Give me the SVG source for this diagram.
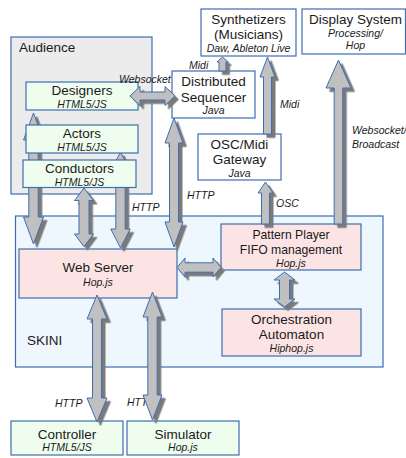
<svg xmlns="http://www.w3.org/2000/svg" width="406" height="458" viewBox="0 0 406 458">
<defs>
<filter id="sh" x="-30%" y="-30%" width="160%" height="160%">
<feDropShadow dx="3.5" dy="3.5" stdDeviation="0.4" flood-color="#7a7a7a" flood-opacity="1"/>
</filter>
</defs>
<style>
.box{stroke:#3d6eb0;stroke-width:1.2}
.aud{fill:#ececec}
.skini{fill:#eef6fe}
.green{fill:#effdef}
.white{fill:#ffffff}
.pink{fill:#fde4e4}
.t{font-family:"Liberation Sans",Arial,sans-serif;font-size:13.5px;fill:#1a1a1a;text-anchor:middle}
.tp{font-size:12.2px}
.s{font-family:"Liberation Sans",Arial,sans-serif;font-size:10.5px;font-style:italic;fill:#1a1a1a;text-anchor:middle}
.l{font-family:"Liberation Sans",Arial,sans-serif;font-size:10.5px;font-style:italic;fill:#1a1a1a}
.lbl{font-family:"Liberation Sans",Arial,sans-serif;font-size:13.5px;fill:#1a1a1a}
.arr{fill:#c0c0c0;stroke:#3d6eb0;stroke-width:1;filter:url(#sh)}
</style>
<rect width="406" height="458" fill="#ffffff"/>
<g id="audience">
<rect class="box aud" x="11" y="37" width="141" height="157"/>
<text class="lbl" x="19" y="52">Audience</text>
</g>
<g id="skini">
<rect class="box skini" x="15.5" y="216" width="367.5" height="151"/>
<text class="lbl" x="27" y="345">SKINI</text>
</g>
<g id="designers">
<rect class="box green" x="26" y="82" width="112" height="28"/>
<text class="t" x="82" y="95">Designers</text>
<text class="s" x="82" y="108">HTML5/JS</text>
</g>
<g id="sequencer">
<rect class="box white" x="172" y="71" width="83" height="47"/>
<text class="t" x="213.5" y="85.5">Distributed</text>
<text class="t" x="213.5" y="101.5">Sequencer</text>
<text class="s" x="213.5" y="113.5">Java</text>
</g>
<g id="synthetizers">
<rect class="box white" x="201" y="9" width="95" height="47"/>
<text class="t" x="248.5" y="24">Synthetizers</text>
<text class="t" x="248.5" y="39">(Musicians)</text>
<text class="s" x="248.5" y="52">Daw, Ableton Live</text>
</g>
<g id="display">
<rect class="box white" x="302" y="9" width="103.5" height="45"/>
<text class="t" x="355.5" y="24">Display System</text>
<text class="s" x="355.5" y="37">Processing/</text>
<text class="s" x="355.5" y="49">Hop</text>
</g>
<g id="gateway">
<rect class="box white" x="198" y="134" width="83" height="46"/>
<text class="t" x="239.5" y="149">OSC/Midi</text>
<text class="t" x="239.5" y="164">Gateway</text>
<text class="s" x="239.5" y="177">Java</text>
</g>
<g id="webserver">
<rect class="box pink" x="19" y="249" width="158" height="49"/>
<text class="t" x="98" y="272">Web Server</text>
<text class="s" x="98" y="285.5">Hop.js</text>
</g>
<g id="patternplayer">
<rect class="box pink" x="221" y="224" width="140" height="46"/>
<text class="t tp" x="291" y="239">Pattern Player</text>
<text class="t tp" x="291" y="254">FIFO management</text>
<text class="s" x="291" y="267">Hop.js</text>
</g>
<g id="orchestration">
<rect class="box pink" x="222" y="309" width="139" height="47"/>
<text class="t" x="291.5" y="324">Orchestration</text>
<text class="t" x="291.5" y="339">Automaton</text>
<text class="s" x="291.5" y="352">Hiphop.js</text>
</g>
<g id="controller">
<rect class="box green" x="11" y="421" width="112" height="34"/>
<text class="t" x="67" y="439">Controller</text>
<text class="s" x="67" y="451">HTML5/JS</text>
</g>
<g id="simulator">
<rect class="box green" x="127" y="421" width="112" height="34"/>
<text class="t" x="183" y="439">Simulator</text>
<text class="s" x="183" y="451">Hop.js</text>
</g>
<g id="connectors">
<text class="l" x="119" y="83">Websocket</text>
<text class="l" x="189" y="69">Midi</text>
<text class="l" x="280" y="108">Midi</text>
<text class="l" x="352" y="134">Websocket/</text>
<text class="l" x="352" y="147.5">Broadcast</text>
<text class="l" x="276" y="207">OSC</text>
<text class="l" x="187" y="199">HTTP</text>
<text class="l" x="132" y="211">HTTP</text>
<text class="l" x="55" y="407">HTTP</text>
<text class="l" x="127" y="406">HTTP</text>
<path class="arr" d="M174,118 L183,143 L178.5,143 L178.5,222 L183,222 L174,247 L165,222 L169.5,222 L169.5,143 L165,143 Z"/>
<path class="arr" d="M33.5,113 L43.5,140 L38.2,140 L38.2,217 L43.5,217 L33.5,244 L23.5,217 L28.8,217 L28.8,140 L23.5,140 Z"/>
<path class="arr" d="M84,188 L93.5,200.5 L89,200.5 L89,234 L93.5,234 L84,246.5 L74.5,234 L79,234 L79,200.5 L74.5,200.5 Z"/>
<path class="arr" d="M120.5,152 L130.2,171 L125.2,171 L125.2,229 L130.2,229 L120.5,248 L110.8,229 L115.8,229 L115.8,171 L110.8,171 Z"/>
<path class="arr" d="M97,295 L107,319 L101.5,319 L101.5,398 L107,398 L97,422 L87,398 L92.5,398 L92.5,319 L87,319 Z"/>
<path class="arr" d="M152.5,292 L162,317 L157.2,317 L157.2,395 L162,395 L152.5,420 L143,395 L147.8,395 L147.8,317 L143,317 Z"/>
<path class="arr" d="M284.5,272 L295,280 L289.5,280 L289.5,299 L295,299 L284.5,307 L274,299 L279.5,299 L279.5,280 L274,280 Z"/>
<path class="arr" d="M177,267.5 L185,258 L185,262.8 L213,262.8 L213,258 L221,267.5 L213,277 L213,272.2 L185,272.2 L185,277 Z"/>
<path class="arr" d="M130,96 L140,86.5 L140,92 L165,92 L165,86.5 L175,96 L165,105.5 L165,100 L140,100 L140,105.5 Z"/>
<path class="arr" d="M222.5,57 L228,62 L226,62 L226,71 L219,71 L219,62 L217,62 Z"/>
<path class="arr" d="M267.5,57 L275,77 L271.5,77 L271.5,134 L263.5,134 L263.5,77 L260,77 Z"/>
<path class="arr" d="M265.5,182 L273,193 L269.5,193 L269.5,224 L261.5,224 L261.5,193 L258,193 Z"/>
<path class="arr" d="M338.5,60 L351,88 L342.8,88 L342.8,224 L334.2,224 L334.2,88 L326,88 Z"/>
</g>
<g id="actors">
<rect class="box green" x="26" y="125" width="112" height="28"/>
<text class="t" x="82" y="138">Actors</text>
<text class="s" x="82" y="150.5">HTML5/JS</text>
</g>
<g id="conductors">
<rect class="box green" x="23" y="160" width="113" height="27.5"/>
<text class="t" x="79.5" y="173">Conductors</text>
<text class="s" x="79.5" y="185.5">HTML5/JS</text>
</g>
</svg>
